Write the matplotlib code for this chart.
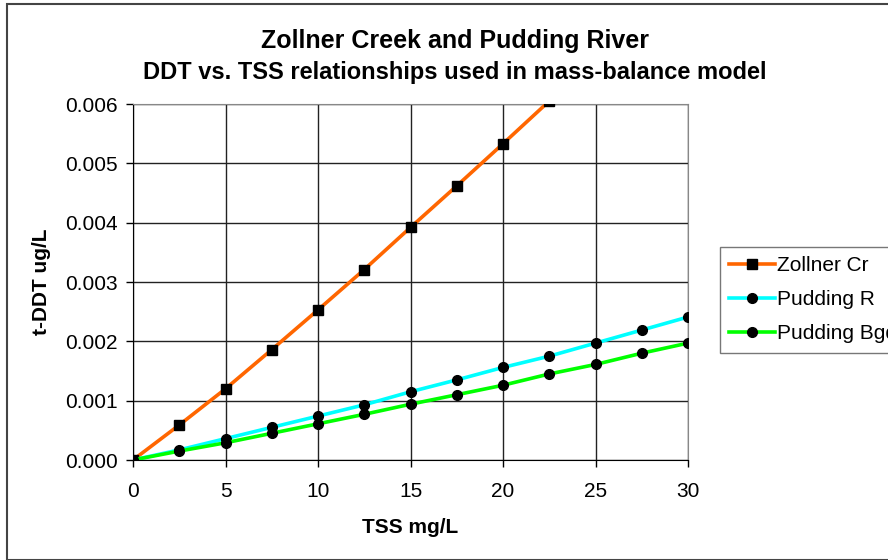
import matplotlib.pyplot as plt
from matplotlib.patches import Rectangle

plt.rcParams['font.family'] = ['Liberation Sans', 'DejaVu Sans']

tss = [0, 2.5, 5, 7.5, 10, 12.5, 15, 17.5, 20, 22.5, 25, 27.5, 30]
zollner = [0, 0.00059, 0.0012, 0.00186, 0.00253, 0.00321, 0.00392, 0.00462,
           0.00533, 0.00605, 0.00678, 0.00752, 0.00826]
pudding_r = [0, 0.00017, 0.00036, 0.00055, 0.00074, 0.00093, 0.00115, 0.00135,
             0.00156, 0.00175, 0.00197, 0.00219, 0.00241]
pudding_bgd = [0, 0.00015, 0.00029, 0.00045, 0.00061, 0.00077, 0.00094, 0.0011,
               0.00126, 0.00145, 0.00161, 0.0018, 0.00197]

xticks = [0, 5, 10, 15, 20, 25, 30]
yticks = [0, 0.001, 0.002, 0.003, 0.004, 0.005, 0.006]

W, H = 888, 560
fig = plt.figure(figsize=(W / 100, H / 100), dpi=100)
ax = fig.add_axes([133 / W, 1 - 460 / H, (688 - 133) / W, (460 - 104) / H])

ax.plot(tss, zollner, color='#FF6600', lw=2.6, marker='s', ms=6.5,
        mfc='black', mec='black', label='Zollner Cr', zorder=3)
ax.plot(tss, pudding_r, color='#00FFFF', lw=2.6, marker='o', ms=7,
        mfc='black', mec='black', label='Pudding R', zorder=3)
ax.plot(tss, pudding_bgd, color='#00FF00', lw=2.6, marker='o', ms=7,
        mfc='black', mec='black', label='Pudding Bgd', zorder=3)

ax.set_xlim(0, 30)
ax.set_ylim(0, 0.006)
ax.set_xticks(xticks)
ax.set_yticks(yticks)
ax.set_yticklabels(['%.3f' % v for v in yticks])
ax.tick_params(labelsize=15, direction='out', length=5, width=1, color='black')
ax.tick_params(axis='x', pad=11)
ax.tick_params(axis='y', pad=6)
ax.grid(True, color='#222222', lw=1)
ax.set_axisbelow(True)
for s in ['top', 'right']:
    ax.spines[s].set_color('#888888')
for s in ['left', 'bottom']:
    ax.spines[s].set_color('black')

ax.set_xlabel('TSS mg/L', fontsize=15, fontweight='bold', labelpad=12)
ax.set_ylabel('t-DDT ug/L', fontsize=15, fontweight='bold', labelpad=10)

fig.text(455 / W, 1 - 41 / H, 'Zollner Creek and Pudding River', ha='center',
         va='center', fontsize=18, fontweight='bold')
fig.text(455 / W, 1 - 73 / H, 'DDT vs. TSS relationships used in mass-balance model',
         ha='center', va='center', fontsize=17, fontweight='bold')

leg = fig.legend(loc='upper left', bbox_to_anchor=(720 / W, 1 - 247 / H),
                 fontsize=15, frameon=True, fancybox=False, handlelength=2.2,
                 handletextpad=0.1, borderpad=0.45, labelspacing=0.72,
                 borderaxespad=0)
leg.get_frame().set_edgecolor('#555555')
leg.get_frame().set_linewidth(1)

fig.patches.append(Rectangle((7 / W, 0), 1, 1 - 4 / H, transform=fig.transFigure,
                             fill=False, edgecolor='#444444', lw=1.5))

fig.savefig('out.png', dpi=100)
